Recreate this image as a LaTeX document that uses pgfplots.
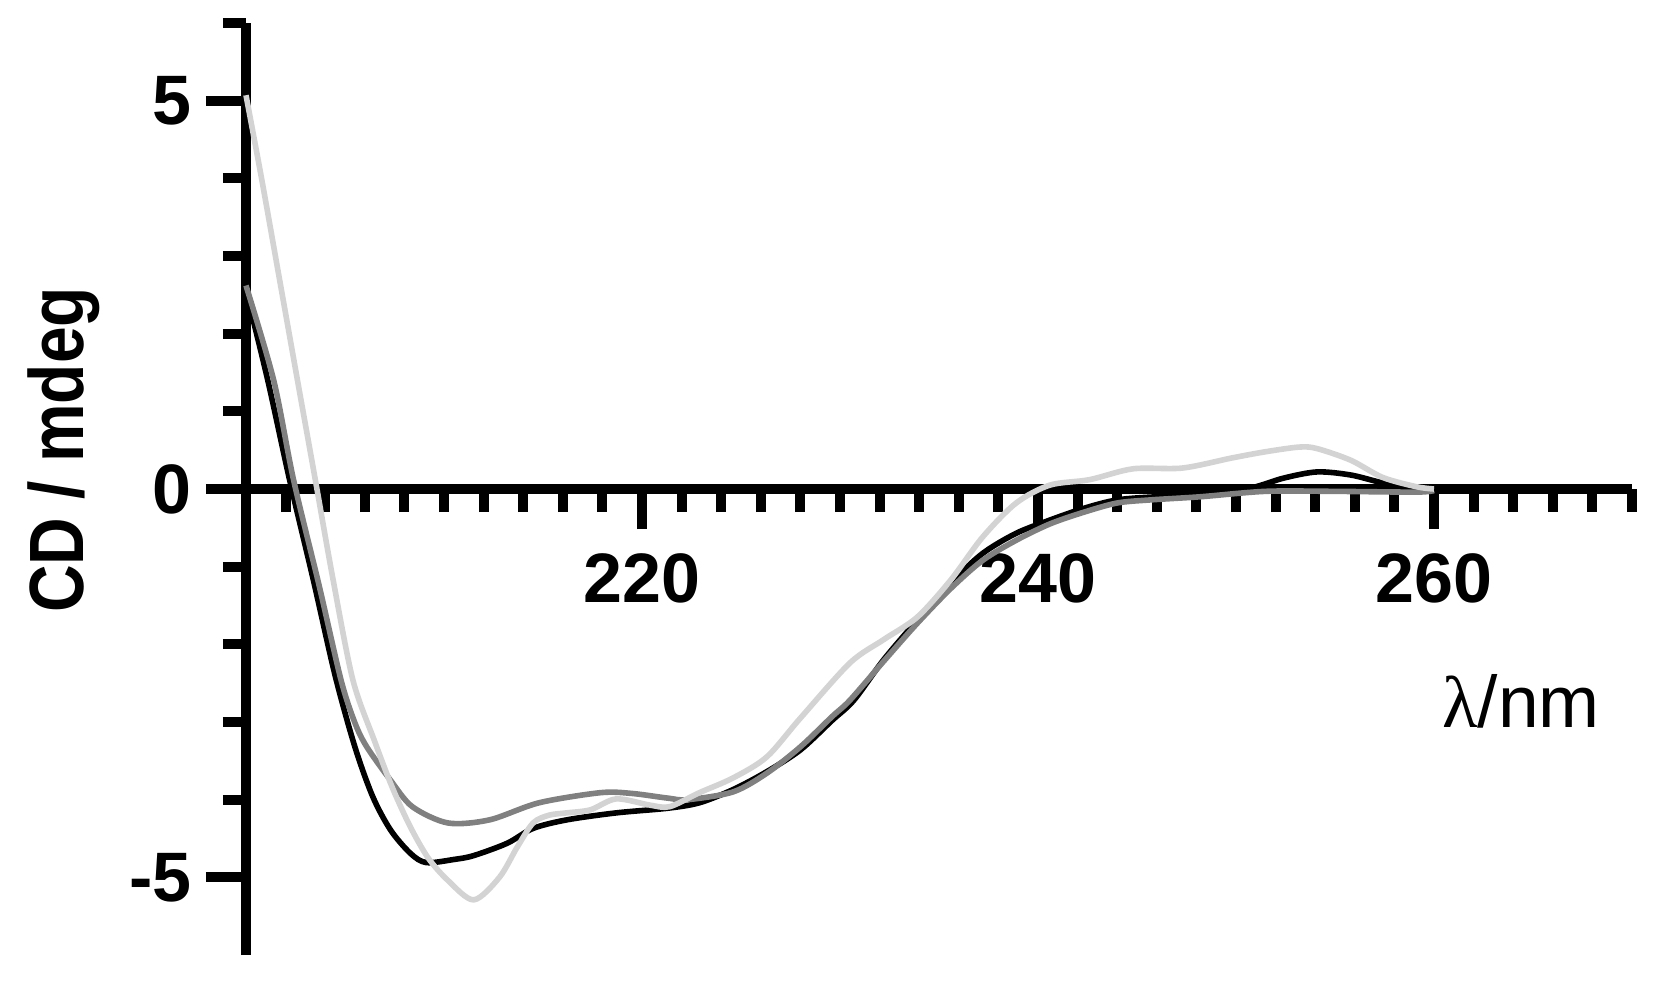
\documentclass[border=0pt]{standalone}
\usepackage{fontspec}
\setmainfont{Liberation Sans}
\newfontfamily\lgreek{Liberation Serif}
\usepackage{graphicx}
\usepackage{pgfplots}
\pgfplotsset{compat=1.18}
\definecolor{cgray}{HTML}{808080}
\definecolor{clight}{HTML}{D3D3D3}
\begin{document}
\begin{tikzpicture}
\begin{axis}[
  at={(0,0)}, anchor=south west,
  scale only axis, width=346.5pt, height=233pt,
  xmin=200, xmax=270, ymin=-6, ymax=6,
  axis x line*=middle, axis y line*=left,
  axis line style={line width=2.5pt, black},
  xtick={220,240,260}, xticklabels={220,240,260},
  minor xtick={202,204,...,270},
  ytick={-5,0,5}, yticklabels={{-5},0,5},
  minor ytick={-4,-3,-2,-1,1,2,3,4,6},
  tick align=outside,
  major tick length=10pt, minor tick length=5.75pt,
  tick style={line width=2.5pt, black},
  ticklabel style={font=\fontsize{17.5}{21}\selectfont\bfseries},
  xticklabel style={yshift=-2.6pt},
  xlabel={{\lgreek λ}/nm},
  xlabel style={at={(axis description cs:0.920,0.2446)}, anchor=base, font=\fontsize{18.3}{22}\selectfont},
  ylabel={\scalebox{0.856}[1]{CD / mdeg}},
  ylabel style={at={(axis description cs:-0.1176,0.542)}, anchor=base, rotate=0, font=\fontsize{19.25}{23}\selectfont\bfseries},
  every axis plot/.append style={line width=1.4pt, smooth, tension=0.5},
  clip=false,
]
\addplot[black] coordinates {
(200,2.55) (201.1,1.40) (202.2,0.12) (203.4,-1.17) (204.5,-2.40) (205.5,-3.32)
(206.4,-3.96) (207.3,-4.39) (208.3,-4.69) (209.1,-4.81) (210.5,-4.77) (211.5,-4.72)
(213.2,-4.56) (214.5,-4.37) (216.2,-4.26) (218.7,-4.17) (221.3,-4.11) (222.9,-4.04)
(224.6,-3.87) (226.3,-3.64) (228.0,-3.36) (229.6,-2.98) (230.7,-2.72) (232.2,-2.20)
(233.9,-1.69) (235.6,-1.21) (237.2,-0.83) (238.9,-0.57) (240.6,-0.40) (242.3,-0.25)
(244.0,-0.14) (246.0,-0.10) (248.2,-0.08) (250.7,0.01) (252.4,0.14) (254.1,0.22)
(255.8,0.18) (257.4,0.08) (259.1,0.01) (260,0.0)
};
\addplot[cgray] coordinates {
(200,2.62) (201.4,1.40) (202.4,0.12) (203.7,-1.25) (204.8,-2.46) (205.5,-3.01)
(206.1,-3.32) (207.3,-3.75) (208.4,-4.09) (210.2,-4.30) (212.3,-4.26) (214.8,-4.04)
(217.9,-3.91) (219.5,-3.92) (221.3,-3.98) (222.3,-4.00) (224.6,-3.90) (226.3,-3.66)
(228.0,-3.32) (229.6,-2.93) (230.5,-2.72) (232.2,-2.22) (233.9,-1.73) (235.6,-1.28)
(237.2,-0.92) (238.9,-0.66) (240.6,-0.45) (242.3,-0.30) (244.0,-0.18) (245.7,-0.14)
(248.2,-0.10) (251.5,-0.03) (254.9,-0.03) (259.1,-0.04) (260,-0.02)
};
\addplot[clight] coordinates {
(200,5.07) (200.8,3.98) (201.7,2.69) (202.6,1.40) (203.5,0.12) (204.4,-1.17)
(205.4,-2.46) (206.5,-3.25) (207.4,-3.85) (208.3,-4.35) (209.2,-4.75) (210.2,-5.04)
(211.5,-5.29) (212.8,-5.00) (213.7,-4.61) (214.5,-4.30) (215.3,-4.20) (216.2,-4.17)
(217.4,-4.13) (218.7,-3.99) (220.4,-4.07) (221.4,-4.09) (222.9,-3.91) (224.6,-3.72)
(226.3,-3.45) (228.0,-2.95) (230.5,-2.24) (232.2,-1.94) (233.9,-1.65) (235.6,-1.17)
(237.2,-0.62) (238.9,-0.18) (240.6,0.05) (242.6,0.12) (244.8,0.26) (247.3,0.27)
(249.8,0.40) (251.5,0.48) (253.2,0.54) (254.1,0.52) (255.8,0.37) (257.4,0.15)
(259.1,0.03) (260,0.0)
};
\end{axis}
\pgfresetboundingbox
\useasboundingbox (-61.5pt,-11.25pt) rectangle (354.25pt,238.75pt);
\end{tikzpicture}
\end{document}
